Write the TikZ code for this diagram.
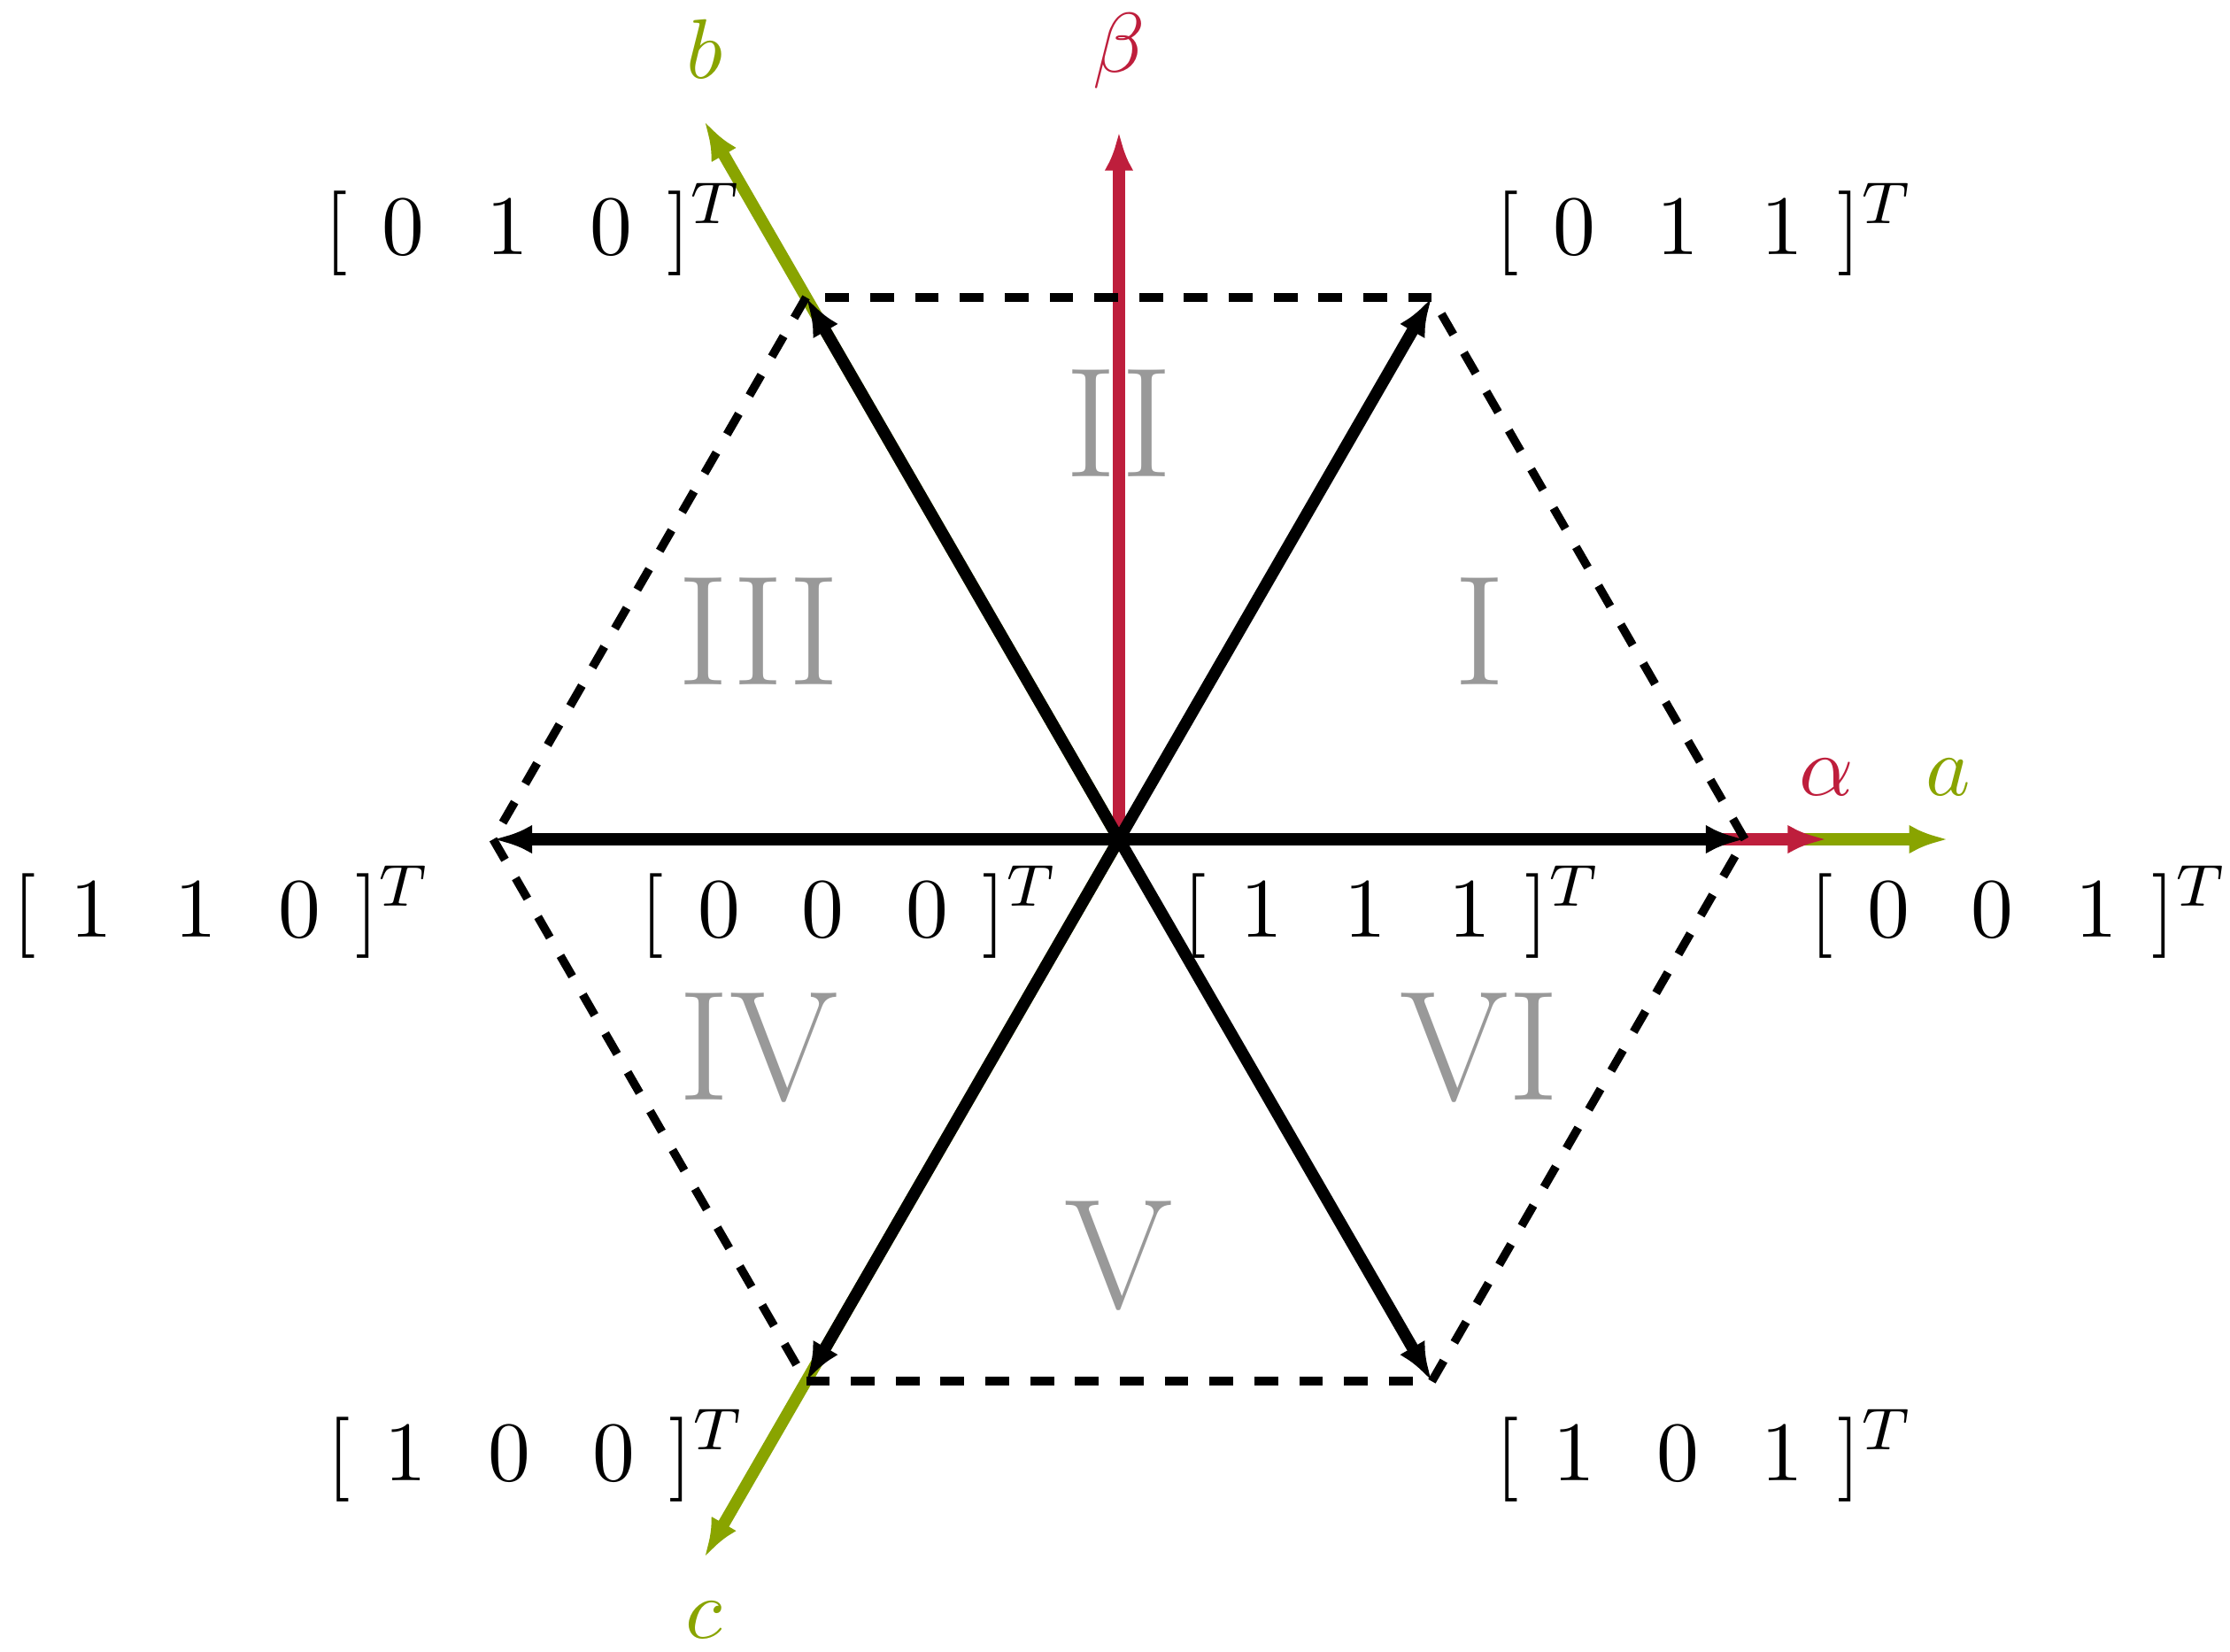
\documentclass[tikz,border=0pt]{standalone}
\usetikzlibrary{arrows.meta}
\newcommand\swstate[3]{$[\hspace{4.05pt}#1\hspace{7.3pt}#2\hspace{7.3pt}#3\hspace{4.05pt}]^T$}
\begin{document}
\begin{tikzpicture}
\definecolor{alphabeta}{HTML}{BE1E3C}
\definecolor{abc}{HTML}{89A400}
\tikzset{
  frameaxis/.style = {line width = 1.4pt, -{Latex[length = 4.6pt, width = 3.4pt]}},
  spacevec/.style = {line width = 1.4pt, -{Latex[length = 4.6pt, width = 3.4pt]}},
  hexedge/.style = {line width = 1pt, dash pattern = on 2.8pt off 2.5pt},
  sector/.style = {text = black!40, font = \fontsize{18.5}{22}\selectfont},
  swlabel/.style = {anchor = base, inner sep = 0pt},
}
\useasboundingbox (-4.649, -3.376) rectangle (4.616, 3.487);
\coordinate (O) at (0, 0);
\coordinate (v001) at (0:2.6);
\coordinate (v011) at (60:2.6);
\coordinate (v010) at (120:2.6);
\coordinate (v110) at (180:2.6);
\coordinate (v100) at (240:2.6);
\coordinate (v101) at (300:2.6);
\coordinate (atip) at (0:3.445);
\coordinate (btip) at (120:3.445);
\coordinate (ctip) at (240:3.445);
\coordinate (alphatip) at (0:2.94);
\coordinate (betatip) at (90:2.94);
\draw[frameaxis, abc] (O) -- (atip);
\draw[frameaxis, abc] (O) -- (btip);
\draw[frameaxis, abc] (O) -- (ctip);
\draw[frameaxis, alphabeta] (O) -- (alphatip);
\draw[frameaxis, alphabeta] (O) -- (betatip);
\node[above = 1.7pt, text = abc] (alab) at (atip) {$a$};
\node[above = 1.5pt, text = abc] (blab) at (btip) {$b$};
\node[below = 1.7pt, text = abc] (clab) at (ctip) {$c$};
\node[above = 1.6pt, text = alphabeta] (alphalab) at (alphatip) {$\alpha$};
\node[above = 1.6pt, text = alphabeta] (betalab) at (betatip) {$\beta$};
\draw[spacevec] (O) -- (v001);
\draw[spacevec] (O) -- (v011);
\draw[spacevec] (O) -- (v010);
\draw[spacevec] (O) -- (v110);
\draw[spacevec] (O) -- (v100);
\draw[spacevec] (O) -- (v101);
\draw[hexedge] (v001) -- (v011);
\draw[hexedge] (v011) -- (v010);
\draw[hexedge] (v010) -- (v110);
\draw[hexedge] (v110) -- (v100);
\draw[hexedge] (v100) -- (v101);
\draw[hexedge] (v101) -- (v001);
\node[sector] (sI) at (30:1.73) {I};
\node[sector] (sII) at (90:1.73) {II};
\node[sector] (sIII) at (150:1.73) {III};
\node[sector] (sIV) at (210:1.73) {IV};
\node[sector] (sV) at (270:1.73) {V};
\node[sector] (sVI) at (330:1.73) {VI};
\node[swlabel] (l001) at (3.74, -0.405) {\swstate{0}{0}{1}};
\node[swlabel] (l011) at (2.435, 2.43) {\swstate{0}{1}{1}};
\node[swlabel] (l010) at (-2.43, 2.43) {\swstate{0}{1}{0}};
\node[swlabel] (l110) at (-3.725, -0.405) {\swstate{1}{1}{0}};
\node[swlabel] (l100) at (-2.42, -2.665) {\swstate{1}{0}{0}};
\node[swlabel] (l101) at (2.435, -2.665) {\swstate{1}{0}{1}};
\node[swlabel] (l000) at (-1.118, -0.405) {\swstate{0}{0}{0}};
\node[swlabel] (l111) at (1.136, -0.405) {\swstate{1}{1}{1}};
\end{tikzpicture}
\end{document}
